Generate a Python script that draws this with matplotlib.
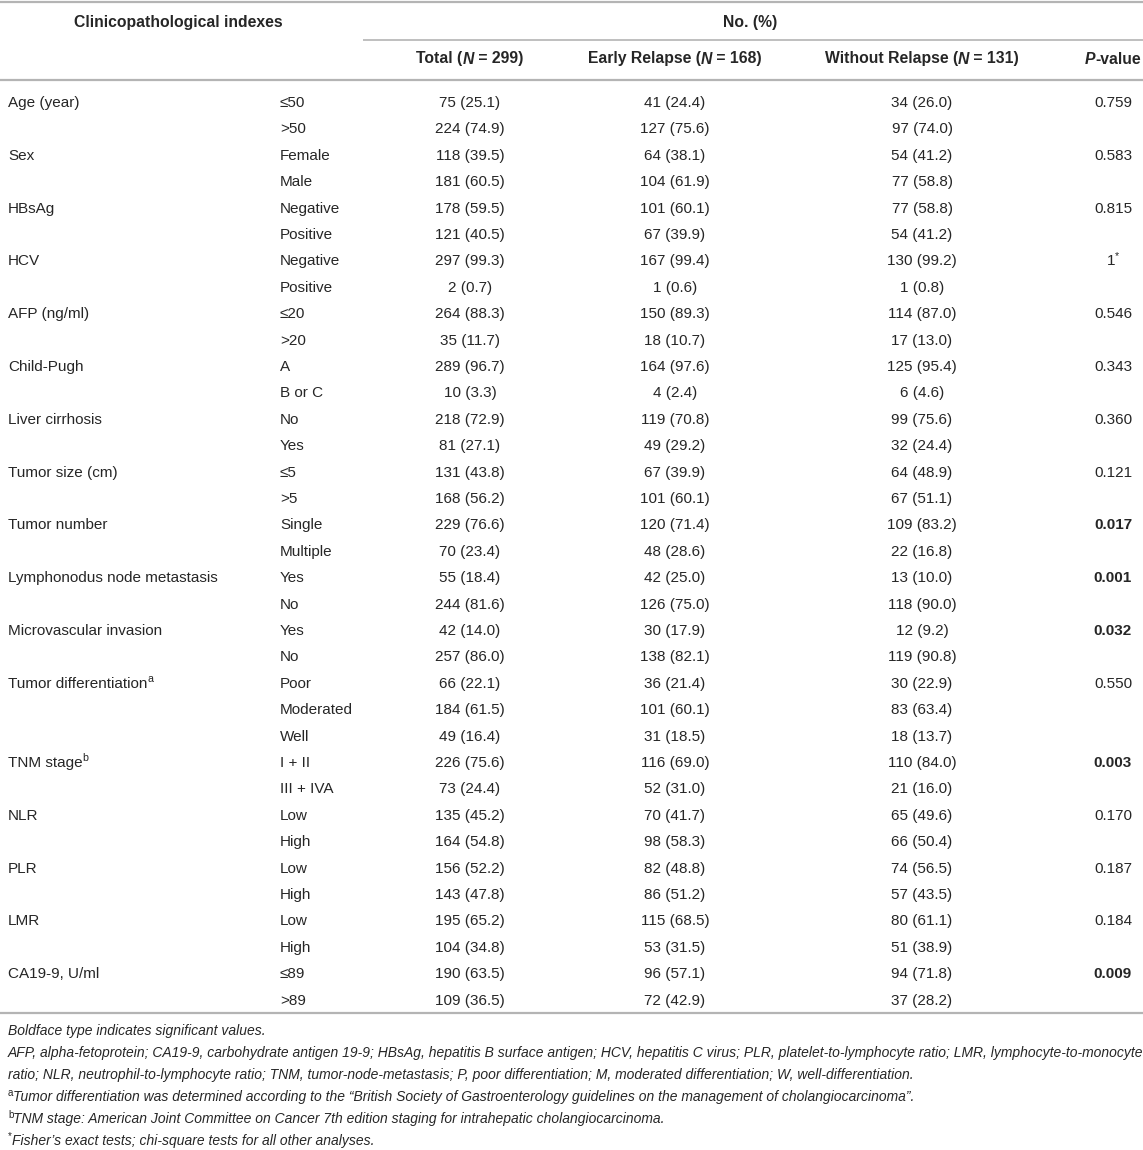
import matplotlib
matplotlib.use("Agg")
import matplotlib.pyplot as plt

plt.rcParams['font.family'] = ['Liberation Sans', 'DejaVu Sans']

# table data
indexes = ["Age (year)", "Sex", "HBsAg", "HCV", "AFP (ng/ml)", "Child-Pugh",
           "Liver cirrhosis", "Tumor size (cm)", "Tumor number",
           "Lymphonodus node metastasis", "Microvascular invasion",
           "Tumor differentiation", "TNM stage", "NLR", "PLR", "LMR", "CA19-9, U/ml"]
index_sup = ["", "", "", "", "", "", "", "", "", "", "", "a", "b", "", "", "", ""]
levels = [["≤50", ">50"], ["Female", "Male"], ["Negative", "Positive"],
          ["Negative", "Positive"], ["≤20", ">20"], ["A", "B or C"], ["No", "Yes"],
          ["≤5", ">5"], ["Single", "Multiple"], ["Yes", "No"], ["Yes", "No"],
          ["Poor", "Moderated", "Well"], ["I + II", "III + IVA"], ["Low", "High"],
          ["Low", "High"], ["Low", "High"], ["≤89", ">89"]]
total_n = [75, 224, 118, 181, 178, 121, 297, 2, 264, 35, 289, 10, 218, 81, 131, 168,
           229, 70, 55, 244, 42, 257, 66, 184, 49, 226, 73, 135, 164, 156, 143, 195, 104,
           190, 109]
total_pct = [25.1, 74.9, 39.5, 60.5, 59.5, 40.5, 99.3, 0.7, 88.3, 11.7, 96.7, 3.3, 72.9,
             27.1, 43.8, 56.2, 76.6, 23.4, 18.4, 81.6, 14.0, 86.0, 22.1, 61.5, 16.4, 75.6,
             24.4, 45.2, 54.8, 52.2, 47.8, 65.2, 34.8, 63.5, 36.5]
early_n = [41, 127, 64, 104, 101, 67, 167, 1, 150, 18, 164, 4, 119, 49, 67, 101, 120, 48,
           42, 126, 30, 138, 36, 101, 31, 116, 52, 70, 98, 82, 86, 115, 53, 96, 72]
early_pct = [24.4, 75.6, 38.1, 61.9, 60.1, 39.9, 99.4, 0.6, 89.3, 10.7, 97.6, 2.4, 70.8,
             29.2, 39.9, 60.1, 71.4, 28.6, 25.0, 75.0, 17.9, 82.1, 21.4, 60.1, 18.5, 69.0,
             31.0, 41.7, 58.3, 48.8, 51.2, 68.5, 31.5, 57.1, 42.9]
without_n = [34, 97, 54, 77, 77, 54, 130, 1, 114, 17, 125, 6, 99, 32, 64, 67, 109, 22, 13,
             118, 12, 119, 30, 83, 18, 110, 21, 65, 66, 74, 57, 80, 51, 94, 37]
without_pct = [26.0, 74.0, 41.2, 58.8, 58.8, 41.2, 99.2, 0.8, 87.0, 13.0, 95.4, 4.6, 75.6,
               24.4, 48.9, 51.1, 83.2, 16.8, 10.0, 90.0, 9.2, 90.8, 22.9, 63.4, 13.7, 84.0,
               16.0, 49.6, 50.4, 56.5, 43.5, 61.1, 38.9, 71.8, 28.2]
p_values = ["0.759", "0.583", "0.815", "1", "0.546", "0.343", "0.360", "0.121", "0.017",
            "0.001", "0.032", "0.550", "0.003", "0.170", "0.187", "0.184", "0.009"]
p_sup = ["", "", "", "*", "", "", "", "", "", "", "", "", "", "", "", "", ""]
p_bold = [False, False, False, False, False, False, False, False, True, True, True,
          False, True, False, False, False, True]

footnotes = [
    [("Boldface type indicates significant values.", False)],
    [("AFP, alpha-fetoprotein; CA19-9, carbohydrate antigen 19-9; HBsAg, hepatitis B surface "
      "antigen; HCV, hepatitis C virus; PLR, platelet-to-lymphocyte ratio; LMR, lymphocyte-to-monocyte", False)],
    [("ratio; NLR, neutrophil-to-lymphocyte ratio; TNM, tumor-node-metastasis; P, poor "
      "differentiation; M, moderated differentiation; W, well-differentiation.", False)],
    [("a", True), ("Tumor differentiation was determined according to the \u201cBritish Society "
                   "of Gastroenterology guidelines on the management of cholangiocarcinoma\u201d.", False)],
    [("b", True), ("TNM stage: American Joint Committee on Cancer 7th edition staging for "
                   "intrahepatic cholangiocarcinoma.", False)],
    [("*", True), ("Fisher\u2019s exact tests; chi-square tests for all other analyses.", False)],
]

W, H = 1143, 1150
fig = plt.figure(figsize=(W / 100, H / 100), dpi=100)
ax = fig.add_axes([0, 0, 1, 1])
ax.set_xlim(0, W)
ax.set_ylim(H, 0)
ax.axis("off")
renderer = fig.canvas.get_renderer()

TXT = "#262626"
LINE = "#b4b4b4"
FS = 11.0
FS_HEAD = 11.3
FS_NOTE = 10.0


def text_width(t):
    bb = t.get_window_extent(renderer=renderer)
    return bb.width


def draw_runs(x, y, runs, ha="left", fs=FS):
    # runs: list of (string, kind) with kind in "n", "i", "sup", "b", "bi"
    objs = []
    for s, kind in runs:
        kw = dict(fontsize=fs, color=TXT, va="center")
        dy = 0
        if kind == "sup":
            kw["fontsize"] = fs * 0.7
            dy = -fs * 0.45
        elif "i" in kind:
            kw["fontstyle"] = "italic"
        if "b" in kind:
            kw["fontweight"] = "bold"
        objs.append(ax.text(0, y + dy, s, **kw))
    widths = [text_width(o) for o in objs]
    total = sum(widths)
    if ha == "center":
        x0 = x - total / 2
    elif ha == "right":
        x0 = x - total
    else:
        x0 = x
    for o, w in zip(objs, widths):
        o.set_x(x0)
        x0 += w
    return objs


# column centres
X_IDX = 8
X_LVL = 280
X_TOT = 470
X_EAR = 675
X_WIT = 922
X_P = 1113

# rules
ax.plot([0, W], [2, 2], color=LINE, lw=1.6, solid_capstyle="butt")
ax.plot([363, W], [40, 40], color=LINE, lw=1.2, solid_capstyle="butt")
ax.plot([0, W], [80, 80], color=LINE, lw=1.6, solid_capstyle="butt")
ax.plot([0, W], [1013, 1013], color=LINE, lw=1.6, solid_capstyle="butt")

# header
draw_runs(178, 22, [("Clinicopathological indexes", "b")], ha="center", fs=FS_HEAD)
draw_runs(750, 22, [("No. (%)", "b")], ha="center", fs=FS_HEAD)
draw_runs(X_TOT, 59, [("Total (", "b"), ("N", "bi"), (" = 299)", "b")], ha="center", fs=FS_HEAD)
draw_runs(X_EAR, 59, [("Early Relapse (", "b"), ("N", "bi"), (" = 168)", "b")], ha="center", fs=FS_HEAD)
draw_runs(X_WIT, 59, [("Without Relapse (", "b"), ("N", "bi"), (" = 131)", "b")], ha="center", fs=FS_HEAD)
draw_runs(1113, 59, [("P", "bi"), ("-value", "b")], ha="center", fs=FS_HEAD)

# body
y0 = 103
dy = 26.4
row = 0
for k, name in enumerate(indexes):
    y = y0 + row * dy
    runs = [(name, "n")]
    if index_sup[k]:
        runs.append((index_sup[k], "sup"))
    draw_runs(X_IDX, y, runs)
    pr = [(p_values[k], "b" if p_bold[k] else "n")]
    if p_sup[k]:
        pr.append((p_sup[k], "sup"))
    draw_runs(X_P, y, pr, ha="center")
    for lvl in levels[k]:
        yy = y0 + row * dy
        ax.text(X_LVL, yy, lvl, fontsize=FS, color=TXT, va="center", ha="left")
        ax.text(X_TOT, yy, f"{total_n[row]} ({total_pct[row]:.1f})", fontsize=FS,
                color=TXT, va="center", ha="center")
        ax.text(X_EAR, yy, f"{early_n[row]} ({early_pct[row]:.1f})", fontsize=FS,
                color=TXT, va="center", ha="center")
        ax.text(X_WIT, yy, f"{without_n[row]} ({without_pct[row]:.1f})", fontsize=FS,
                color=TXT, va="center", ha="center")
        row += 1

# footnotes
fy = 1031
for line in footnotes:
    runs = [(s, "sup" if sup else "i") for s, sup in line]
    draw_runs(8, fy, runs, fs=FS_NOTE)
    fy += 22

fig.savefig("out.png", dpi=100)
